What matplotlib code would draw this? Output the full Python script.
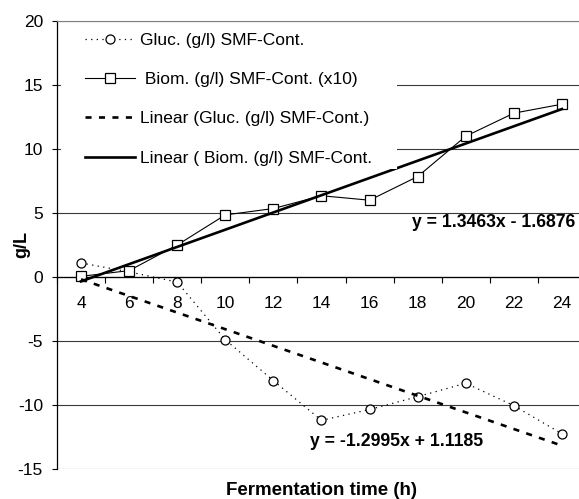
import numpy as np
import matplotlib
matplotlib.use('Agg')
import matplotlib.pyplot as plt
from matplotlib.patches import Rectangle

# values
hours = [4, 6, 8, 10, 12, 14, 16, 18, 20, 22, 24]
glucose = [1.1, 0.4, -0.4, -4.9, -8.1, -11.2, -10.35, -9.35, -8.3, -10.05, -12.25]
biomass_x10 = [0.05, 0.5, 2.5, 4.85, 5.35, 6.35, 6.0, 7.85, 11.0, 12.8, 13.5]

# trendline coefficients as printed (x = point number, like Excel)
gluc_slope, gluc_icept = -1.2995, 1.1185
biom_slope, biom_icept = 1.3463, -1.6876

y_ticks = [-15, -10, -5, 0, 5, 10, 15, 20]

plt.rcParams['font.family'] = 'Liberation Sans'
plt.rcParams['font.size'] = 12.5
plt.rcParams['axes.unicode_minus'] = False

fig = plt.figure(figsize=(5.79, 4.99), dpi=100)
ax = fig.add_axes([57 / 579, 30 / 499, 529 / 579, 448 / 499])

point_no = np.arange(1, len(hours) + 1)

ax.plot(hours, glucose, color='black', lw=0.9, ls=(0, (1, 3.5)), marker='o', ms=6.5,
        mfc='white', mec='black', mew=0.9, label='Gluc. (g/l) SMF-Cont.', zorder=3)
ax.plot(hours, biomass_x10, color='black', lw=0.8, marker='s', ms=7,
        mfc='white', mec='black', mew=0.9, label=' Biom. (g/l) SMF-Cont. (x10)', zorder=3)
ax.plot(hours, gluc_slope * point_no + gluc_icept, color='black', lw=1.9, dashes=(2.3, 2.8),
        label='Linear (Gluc. (g/l) SMF-Cont.)', zorder=3.5)
ax.plot(hours, biom_slope * point_no + biom_icept, color='black', lw=1.9,
        label='Linear ( Biom. (g/l) SMF-Cont.', zorder=3.5)

ax.set_xlim(3, 25)
ax.set_ylim(-15, 20)
ax.set_xticks(hours)
ax.set_xticks(np.arange(3, 26, 2), minor=True)
ax.tick_params(axis='x', which='major', length=0, pad=14)
ax.tick_params(axis='x', which='minor', length=4.3, width=0.8, direction='out')
ax.set_yticks(y_ticks)
ax.tick_params(axis='y', length=3.6, width=0.8, pad=6.5)
ax.grid(axis='y', color='#3a3a3a', lw=0.8)
ax.set_axisbelow(True)

ax.spines['bottom'].set_position(('data', 0))
ax.spines['bottom'].set_linewidth(0.9)
ax.spines['left'].set_linewidth(0.9)
ax.spines['right'].set_visible(False)
ax.spines['top'].set_color('#808080')
ax.spines['top'].set_zorder(7)

# white legend background (Excel legend box without border)
ax.add_patch(Rectangle((0.0076, 0.6696), 0.635, 0.326, transform=ax.transAxes,
                       facecolor='white', edgecolor='none', zorder=4))
leg = ax.legend(loc='upper left', bbox_to_anchor=(0.0529, 0.973), frameon=False,
                borderpad=0, borderaxespad=0, handlelength=2.9, handletextpad=0.25,
                labelspacing=1.38, numpoints=1, fontsize=12.5)
leg.set_zorder(6)

ax.text(0.979, 0.551, 'y = 1.3463x - 1.6876', transform=ax.transAxes,
        ha='right', va='center', fontweight='bold', fontsize=12.7)
ax.text(0.641, 0.0603, 'y = -1.2995x + 1.1185', transform=ax.transAxes,
        ha='center', va='center', fontweight='bold', fontsize=12.7)

ax.set_xlabel('Fermentation time (h)', fontweight='bold', fontsize=13.5, va='center')
ax.xaxis.set_label_coords(0.5, -0.0469)
ax.set_ylabel('g/L', fontweight='bold', fontsize=13, va='center')
ax.yaxis.set_label_coords(-0.066, 0.5)

fig.savefig('out.png', dpi=100)
